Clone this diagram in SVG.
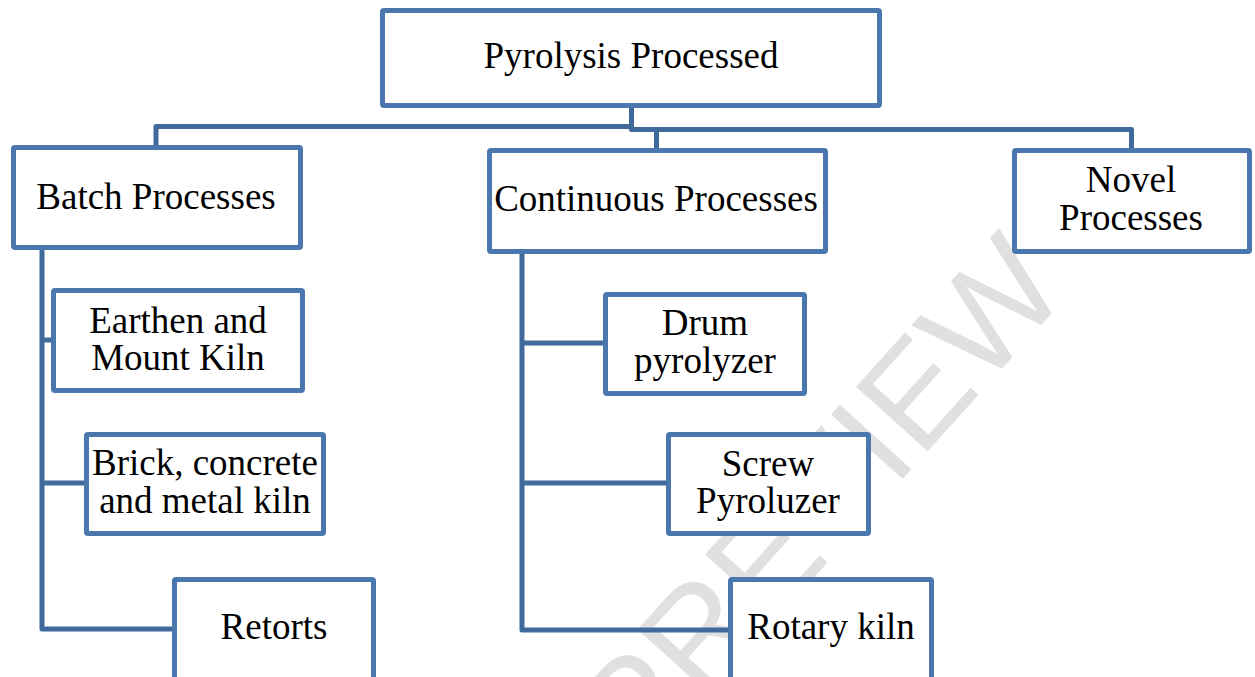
<svg xmlns="http://www.w3.org/2000/svg" width="1255" height="677" viewBox="0 0 1255 677">
<style>
  .box { fill: #ffffff; stroke: #4a77ae; stroke-width: 5; stroke-linejoin: round; }
  .conn { fill: none; stroke: #416a9c; stroke-width: 5; stroke-linejoin: round; }
  .lbl { font-family: "Liberation Serif", "Times New Roman", serif; font-size: 37px; fill: #000000; text-anchor: middle; }
  .wm { font-family: "Liberation Sans", Arial, sans-serif; font-size: 140px; fill: #e0e0e0; text-anchor: middle; }
</style>
<rect width="1255" height="677" fill="#ffffff"/>
<g id="watermark">
  <text class="wm" x="855" y="532" transform="rotate(-48 855 532)">PREVIEW</text>
</g>
<g id="connectors">
  <path class="conn" d="M156 147 V126.5 H631.5 V108"/>
  <path class="conn" d="M631.5 126 V129.5 H1131.5 V150"/>
  <path class="conn" d="M656.5 129.5 V150"/>
  <path class="conn" d="M42 250 V629 H174"/>
  <path class="conn" d="M42 340 H53"/>
  <path class="conn" d="M42 483 H86"/>
  <path class="conn" d="M522 254 V630 H730"/>
  <path class="conn" d="M522 343 H605"/>
  <path class="conn" d="M522 483 H668"/>
</g>
<g id="n-root">
  <rect class="box" x="382.5" y="10.5" width="497" height="95" rx="1.5"/>
  <text class="lbl" x="631" y="68">Pyrolysis Processed</text>
</g>
<g id="n-batch">
  <rect class="box" x="13.5" y="147.5" width="287" height="100" rx="1.5"/>
  <text class="lbl" x="156" y="209">Batch Processes</text>
</g>
<g id="n-continuous">
  <rect class="box" x="489.5" y="150.5" width="336" height="101" rx="1.5"/>
  <text class="lbl" x="656" y="211">Continuous Processes</text>
</g>
<g id="n-novel">
  <rect class="box" x="1014.5" y="150.5" width="235" height="101" rx="1.5"/>
  <text class="lbl" x="1131" y="192">Novel</text>
  <text class="lbl" x="1131" y="230">Processes</text>
</g>
<g id="n-earthen">
  <rect class="box" x="53.5" y="290.5" width="249" height="100" rx="1.5"/>
  <text class="lbl" x="178" y="333">Earthen and</text>
  <text class="lbl" x="178" y="370">Mount Kiln</text>
</g>
<g id="n-brick">
  <rect class="box" x="86.5" y="434.5" width="237" height="99" rx="1.5"/>
  <text class="lbl" x="205" y="475">Brick, concrete</text>
  <text class="lbl" x="205" y="513">and metal kiln</text>
</g>
<g id="n-retorts">
  <rect class="box" x="174.5" y="579.5" width="199" height="120" rx="1.5"/>
  <text class="lbl" x="274" y="639">Retorts</text>
</g>
<g id="n-drum">
  <rect class="box" x="605.5" y="294.5" width="199" height="99" rx="1.5"/>
  <text class="lbl" x="705" y="335">Drum</text>
  <text class="lbl" x="705" y="373">pyrolyzer</text>
</g>
<g id="n-screw">
  <rect class="box" x="668.5" y="434.5" width="200" height="99" rx="1.5"/>
  <text class="lbl" x="768" y="476">Screw</text>
  <text class="lbl" x="768" y="513">Pyroluzer</text>
</g>
<g id="n-rotary">
  <rect class="box" x="730.5" y="579.5" width="201" height="120" rx="1.5"/>
  <text class="lbl" x="831" y="639">Rotary kiln</text>
</g>
</svg>
